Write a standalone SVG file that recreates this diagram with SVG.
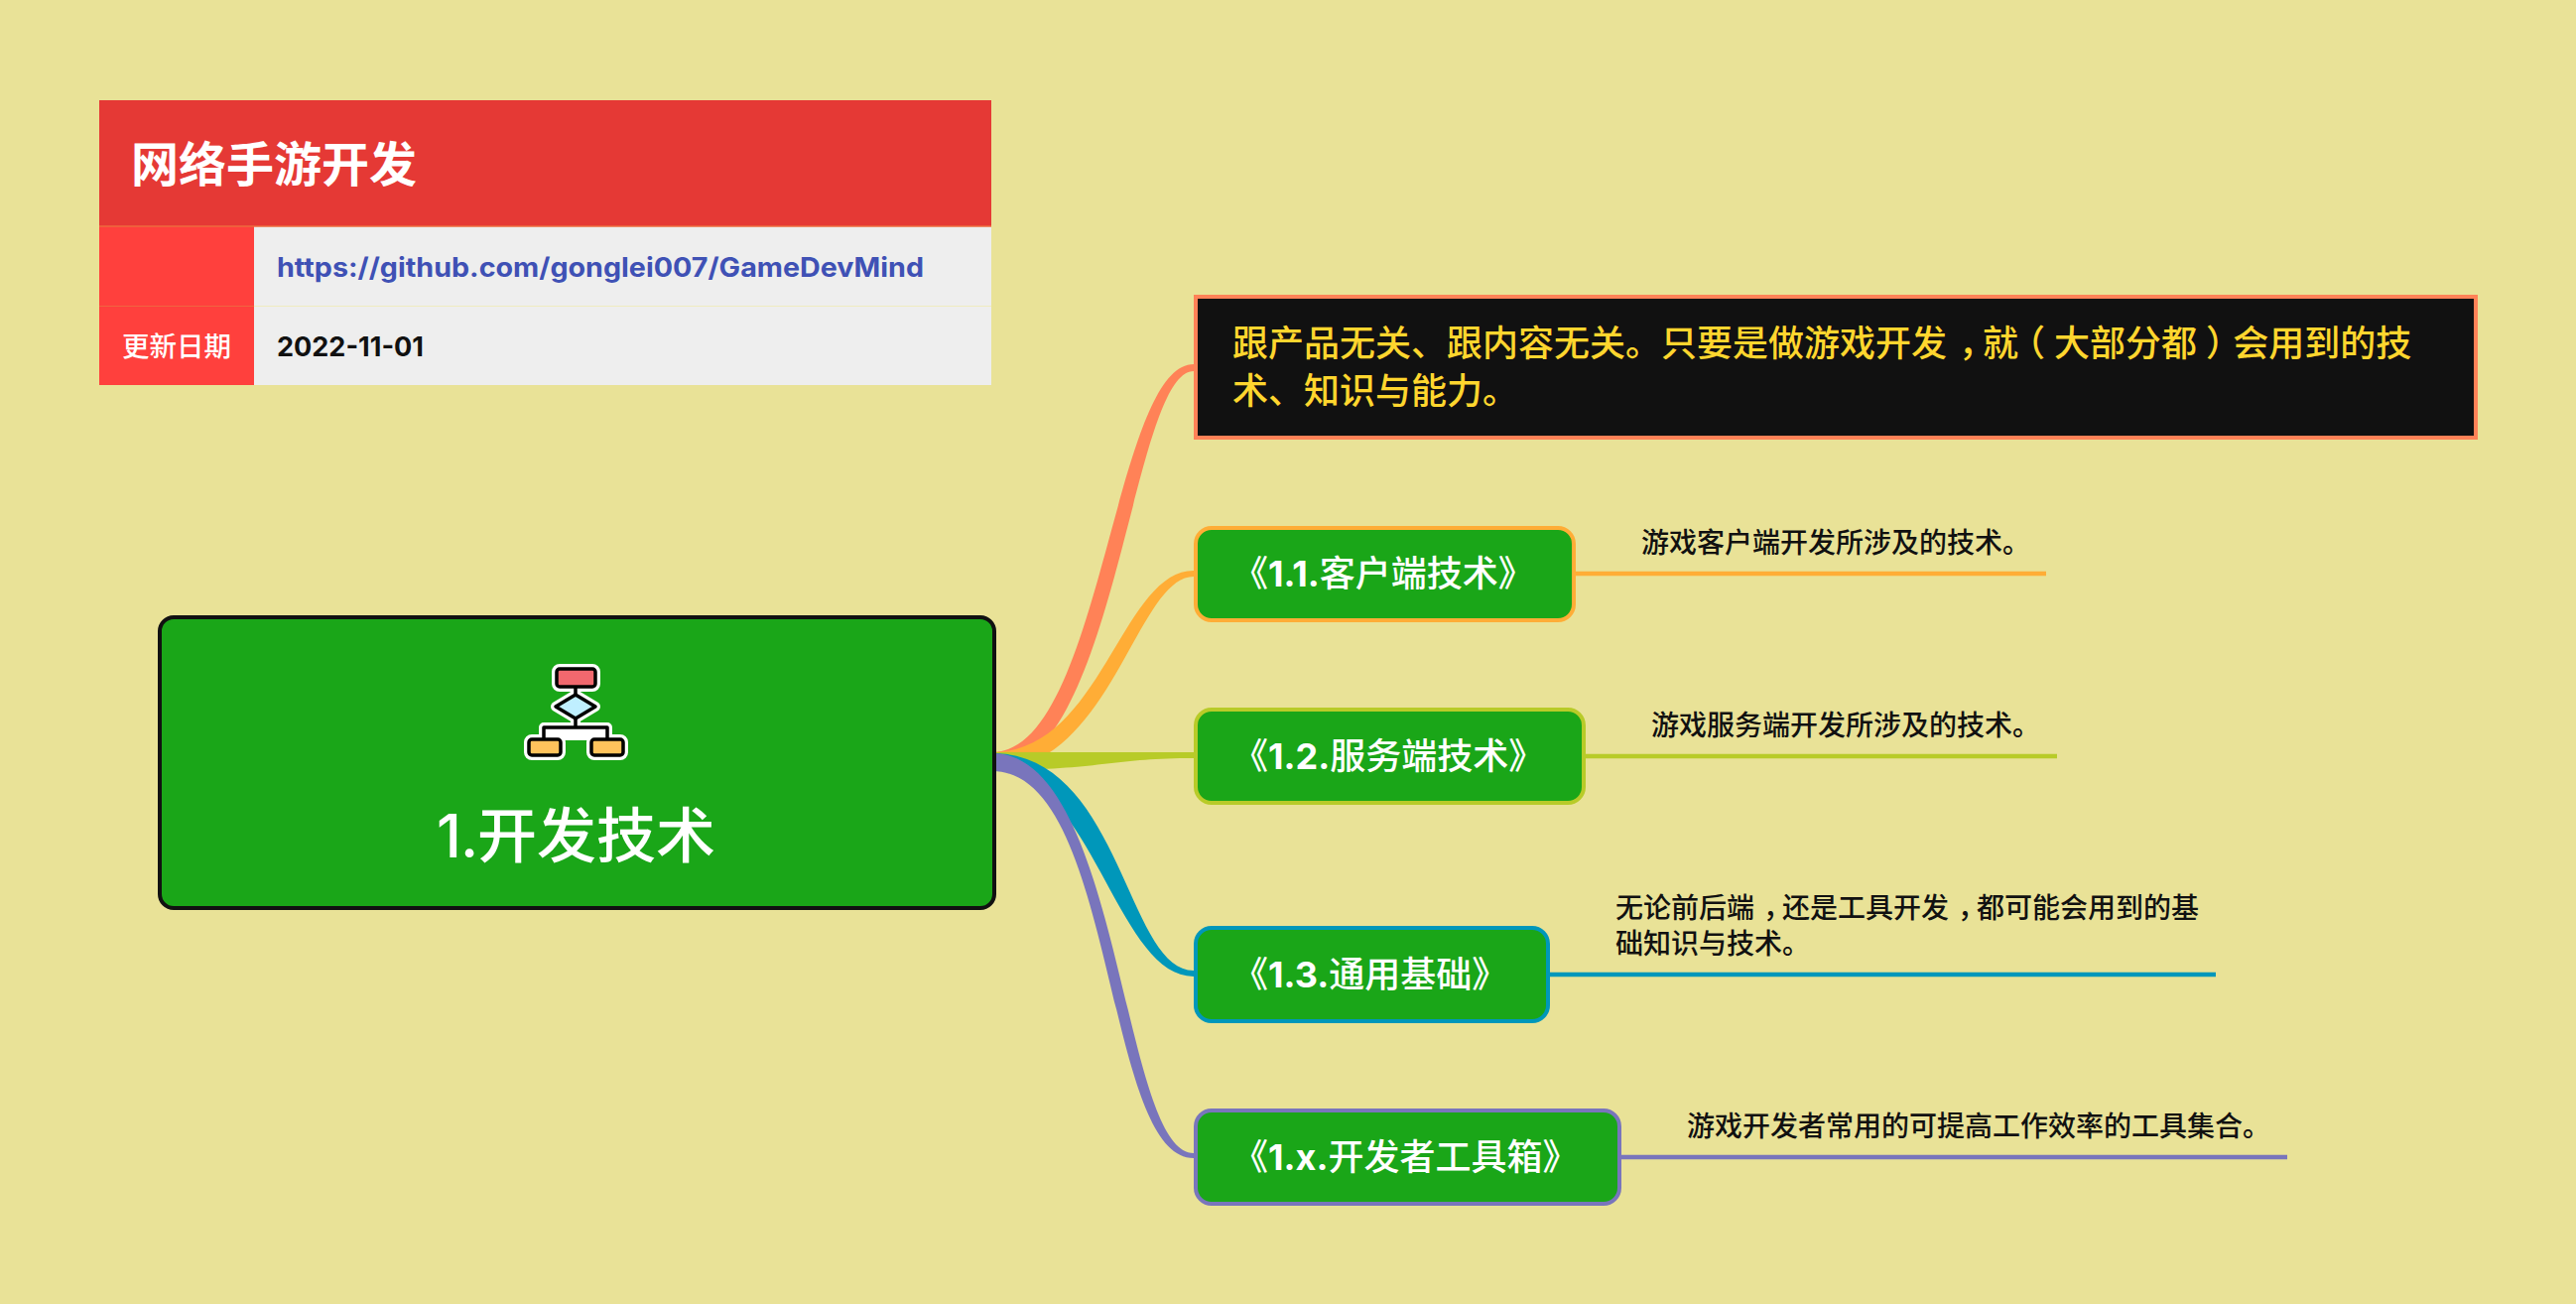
<svg xmlns="http://www.w3.org/2000/svg" width="2596" height="1314" viewBox="0 0 2596 1314">
<style>
text{font-family:"Inter","Noto Sans CJK SC","Noto Sans",sans-serif}
.cjk{font-family:"Noto Sans CJK SC","Inter",sans-serif}
.child{fill:#1AA618;stroke-width:4}
.lbl{font-size:36px;font-weight:700;fill:#fff}
.lbl .c{font-family:"Noto Sans CJK SC",sans-serif;font-weight:500}
.desc{font-size:28px;font-weight:500;fill:#111}
.line{fill:none;stroke-width:4.5}
.ink{stroke:#000;stroke-width:3.500;stroke-linejoin:round;fill:none}
.halo{stroke:#fff;stroke-width:10;stroke-linejoin:round;fill:#fff}
</style>
<rect width="2596" height="1314" fill="#E9E297"/>
<g id="connectors">
<path fill="#FF8257" d="M1000 758C1110 758 1122 367 1203 367V374C1140 374 1125 776 1000 776Z"/>
<path fill="#FFAD36" d="M1000 758C1110 758 1130 575 1203 575V581C1145 581 1120 776 1000 776Z"/>
<path fill="#B8CB28" d="M1000 758H1203V764C1120 764 1110 776 1000 776Z"/>
<path fill="#0097BA" d="M1000 759C1130 759 1135 978 1203 978V984C1125 984 1100 776 1000 776Z"/>
<path fill="#7975BC" d="M1000 759C1130 759 1130 1162 1203 1162V1167C1112 1167 1125 777 1000 777Z"/>
<path class="line" stroke="#FFAD36" d="M1588 578H2062"/>
<path class="line" stroke="#B8CB28" d="M1597 762H2073"/>
<path class="line" stroke="#0097BA" d="M1562 982H2233"/>
<path class="line" stroke="#7975BC" d="M1634 1166H2305"/>
</g>
<g id="info-table">
<rect x="100" y="101" width="899" height="127" fill="#E53935"/>
<rect x="100" y="228" width="156" height="160" fill="#FF403D"/>
<rect x="256" y="228" width="743" height="160" fill="#EEEEEE"/>
<path d="M100 228H999" stroke="#EE6A3C" stroke-width="1.500"/>
<path d="M100 308.500H256" stroke="#F0653F" stroke-width="1"/>
<path d="M256 308.500H999" stroke="#EFEBC0" stroke-width="1"/>
<text x="132" y="183" class="cjk" font-size="48" font-weight="700" fill="#fff">网络手游开发</text>
<text x="279" y="279" font-size="27" font-weight="700" fill="#3F51B5" textLength="652" lengthAdjust="spacingAndGlyphs">https://github.com/gonglei007/GameDevMind</text>
<text x="123" y="359" class="cjk" font-size="27.500" font-weight="500" fill="#fff">更新日期</text>
<text x="279" y="359" font-size="27" font-weight="700" fill="#111" textLength="148" lengthAdjust="spacingAndGlyphs">2022-11-01</text>
</g>
<g id="root">
<rect x="161" y="622" width="841" height="293" rx="14" fill="#1AA618" stroke="#111" stroke-width="4"/>
<g id="root-icon" transform="translate(0,1)">
<rect class="halo" x="561" y="673" width="39" height="18" rx="3"/>
<path class="halo" d="M580 699L600 711L580 723L560 711Z"/>
<path class="halo" d="M580 691V732M548 745V732H612V745"/>
<rect class="halo" x="533" y="744" width="32" height="16" rx="3"/>
<rect class="halo" x="596" y="744" width="32" height="16" rx="3"/>
<path class="ink" d="M580 691V699M580 723V732M548 744V732H612V744"/>
<rect class="ink" x="561" y="673" width="39" height="18" rx="3" style="fill:#F1686E"/>
<path class="ink" d="M580 699L600 711L580 723L560 711Z" style="fill:#BFEFFF"/>
<rect class="ink" x="533" y="744" width="32" height="16" rx="3" style="fill:#FFC35C"/>
<rect class="ink" x="596" y="744" width="32" height="16" rx="3" style="fill:#FFC35C"/>
</g>
<text x="440" y="864" font-size="60" font-weight="500" fill="#fff" letter-spacing="-1">1.<tspan class="cjk" letter-spacing="0">开发技术</tspan></text>
</g>
<g id="note">
<rect x="1205" y="299" width="1290" height="142" fill="#111" stroke="#FF8257" stroke-width="4"/>
<text class="cjk" font-size="36" font-weight="500" fill="#FFD62E"><tspan x="1242" y="359">跟产品无关、跟内容无关。只要是做游戏开</tspan><tspan letter-spacing="12">发</tspan><tspan letter-spacing="-12">，</tspan><tspan letter-spacing="-9">就</tspan><tspan letter-spacing="9">（</tspan><tspan>大部分</tspan><tspan letter-spacing="9">都</tspan><tspan letter-spacing="-9">）</tspan><tspan>会用到的技</tspan><tspan x="1242" y="407">术、知识与能力。</tspan></text>
</g>
<g id="node-1-1">
<rect class="child" x="1205" y="532" width="381" height="93" rx="16" stroke="#FFAD36"/>
<text class="lbl" x="1242" y="591"><tspan class="c">《</tspan>1.1.<tspan class="c">客户端技术》</tspan></text>
<text class="desc cjk" x="1654" y="557">游戏客户端开发所涉及的技术。</text>
</g>
<g id="node-1-2">
<rect class="child" x="1205" y="715" width="391" height="94" rx="16" stroke="#B8CB28"/>
<text class="lbl" x="1242" y="775"><tspan class="c">《</tspan>1.2.<tspan class="c">服务端技术》</tspan></text>
<text class="desc cjk" x="1664" y="741">游戏服务端开发所涉及的技术。</text>
</g>
<g id="node-1-3">
<rect class="child" x="1205" y="935" width="355" height="94" rx="16" stroke="#0097BA"/>
<text class="lbl" x="1242" y="995"><tspan class="c">《</tspan>1.3.<tspan class="c">通用基础》</tspan></text>
<text class="desc cjk"><tspan x="1628" y="925">无论前后</tspan><tspan letter-spacing="9">端</tspan><tspan letter-spacing="-9">，</tspan><tspan>还是工具开</tspan><tspan letter-spacing="9">发</tspan><tspan letter-spacing="-9">，</tspan><tspan>都可能会用到的基</tspan><tspan x="1628" y="961">础知识与技术。</tspan></text>
</g>
<g id="node-1-x">
<rect class="child" x="1205" y="1119" width="427" height="94" rx="16" stroke="#7975BC"/>
<text class="lbl" x="1242" y="1179"><tspan class="c">《</tspan>1.x.<tspan class="c">开发者工具箱》</tspan></text>
<text class="desc cjk" x="1700" y="1145">游戏开发者常用的可提高工作效率的工具集合。</text>
</g>
</svg>
